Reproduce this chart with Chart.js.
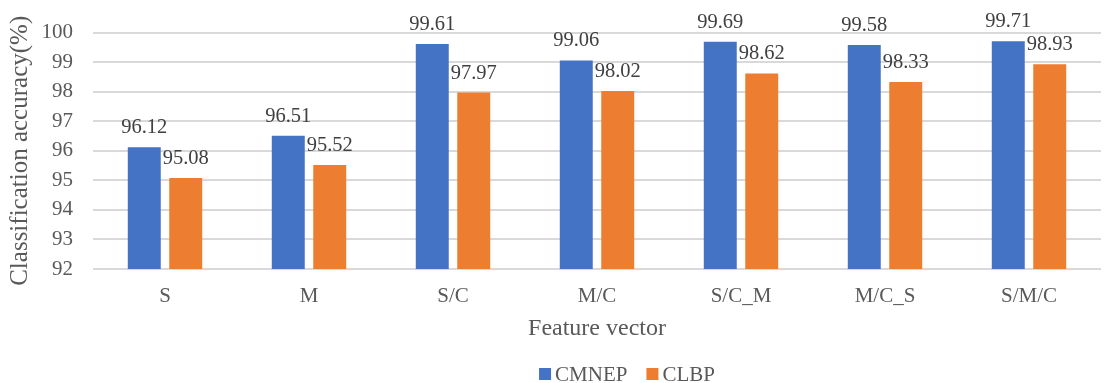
<!DOCTYPE html>
<html>
<head>
<meta charset="utf-8">
<script src="https://cdn.jsdelivr.net/npm/chart.js@4/dist/chart.umd.min.js"></script>
<style>
  html, body { margin: 0; padding: 0; background: #fff; }
  #wrap { width: 1110px; height: 383px; }
</style>
</head>
<body>
<div id="wrap"><canvas id="accChart"></canvas></div>
<script>
const categories = ['S', 'M', 'S/C', 'M/C', 'S/C_M', 'M/C_S', 'S/M/C'];
const cmnep = [96.12, 96.51, 99.61, 99.06, 99.69, 99.58, 99.71];
const clbp = [95.08, 95.52, 97.97, 98.02, 98.62, 98.33, 98.93];
const yTicks = { min: 92, max: 100, step: 1 };

const FONT = "'Liberation Serif', 'Times New Roman', serif";
const GREY = '#595959';

// value labels over each bar
const barLabels = {
  id: 'barLabels',
  afterDatasetsDraw(chart) {
    const ctx = chart.ctx;
    ctx.save();
    ctx.font = '20.5px ' + FONT;
    ctx.fillStyle = '#404040';
    ctx.textAlign = 'center';
    ctx.textBaseline = 'alphabetic';
    chart.data.datasets.forEach((ds, i) => {
      chart.getDatasetMeta(i).data.forEach((bar, j) => {
        ctx.fillText(ds.data[j].toFixed(2), bar.x, bar.y - 14);
      });
    });
    ctx.restore();
  }
};

// small square-key legend under the x title
const bottomLegend = {
  id: 'bottomLegend',
  afterDraw(chart) {
    const ctx = chart.ctx;
    const area = chart.chartArea;
    const box = 12, gap = 4, between = 19;
    ctx.save();
    ctx.font = '21px ' + FONT;
    ctx.textBaseline = 'alphabetic';
    const items = chart.data.datasets.map(ds => ({
      text: ds.label,
      color: ds.backgroundColor,
      w: ctx.measureText(ds.label).width
    }));
    let total = 0;
    items.forEach((it, i) => { total += box + gap + it.w + (i ? between : 0); });
    let x = (area.left + area.right) / 2 + 30 - total / 2;
    const base = 381;
    items.forEach(it => {
      ctx.fillStyle = it.color;
      ctx.fillRect(x, base - 13, box, box);
      ctx.fillStyle = GREY;
      ctx.fillText(it.text, x + box + gap, base);
      x += box + gap + it.w + between;
    });
    ctx.restore();
  }
};

new Chart(document.getElementById('accChart'), {
  type: 'bar',
  data: {
    labels: categories,
    datasets: [
      { label: 'CMNEP', data: cmnep, backgroundColor: '#4472C4' },
      { label: 'CLBP', data: clbp, backgroundColor: '#ED7D31' }
    ]
  },
  options: {
    responsive: true,
    maintainAspectRatio: false,
    animation: false,
    categoryPercentage: 0.576,
    barPercentage: 0.795,
    layout: { padding: { top: 29, right: 9, left: 0, bottom: 34 } },
    plugins: {
      tooltip: { enabled: false },
      legend: { display: false }
    },
    scales: {
      x: {
        grid: { display: false, drawTicks: false },
        border: { display: false },
        ticks: { color: GREY, font: { family: FONT, size: 21 }, padding: 15 },
        title: {
          display: true,
          text: 'Feature vector',
          color: GREY,
          font: { family: FONT, size: 24 },
          padding: { top: 4, bottom: 6 }
        },
        afterFit(scale) { scale.height = 80; }
      },
      y: {
        min: yTicks.min,
        max: yTicks.max,
        ticks: {
          stepSize: yTicks.step,
          color: GREY,
          font: { family: FONT, size: 21 },
          padding: 20
        },
        grid: { color: '#d9d9d9', lineWidth: 2, drawTicks: false },
        border: { display: false },
        title: {
          display: true,
          text: 'Classification accuracy(%)',
          color: GREY,
          font: { family: FONT, size: 25 },
          padding: { top: 5, bottom: 4 }
        },
        afterFit(scale) { scale.width = 93; }
      }
    }
  },
  plugins: [barLabels, bottomLegend]
});
</script>
</body>
</html>
